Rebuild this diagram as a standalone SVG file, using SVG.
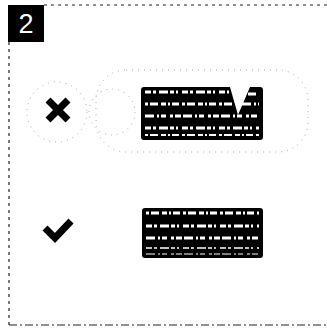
<svg xmlns="http://www.w3.org/2000/svg" width="327" height="331" viewBox="0 0 327 331">
<defs>
<style>
.frame{fill:none;stroke:#222;stroke-width:1.2;stroke-dasharray:3 4}
.faint{fill:none;stroke:#aaa;stroke-width:1;stroke-dasharray:1 5}
.icon{fill:none;stroke:#000;stroke-width:7;stroke-linejoin:miter}
.box{fill:#000}
.row{stroke:#fff;stroke-width:3;fill:none}
.r1{stroke-dasharray:6 2 3 3 9 2 4 2 2 4}
.r2{stroke-dasharray:3 2 8 3 5 2 2 2 7 3}
.r3{stroke-dasharray:9 3 2 2 5 4 3 2 6 2}
</style>
</defs>
<rect width="327" height="331" fill="#fff"/>
<g id="frame">
<line class="frame" x1="44" y1="5" x2="327" y2="5"/>
<line class="frame" x1="9" y1="42" x2="9" y2="325"/>
<line class="frame" x1="9" y1="325" x2="327" y2="325" style="stroke-dasharray:8 3 2 3"/>
</g>
<g id="badge">
<rect x="8" y="5" width="36" height="37" fill="#000"/>
<text x="26" y="33" text-anchor="middle" font-family="Liberation Sans, Arial, sans-serif" font-size="27" fill="#fff">2</text>
</g>
<g id="guides">
<circle class="faint" cx="57" cy="112" r="30"/>
<circle class="faint" cx="112" cy="112" r="23"/>
<rect class="faint" x="96" y="70" width="212" height="82" rx="30"/>
</g>
<g id="wrong">
<path class="icon" d="M48 100 L68 120 M68 100 L48 120"/>
<path class="box" d="M144 87 H230 L238 115 L250 87 H260 Q263 87 263 90 V137 Q263 140 260 140 H144 Q141 140 141 137 V90 Q141 87 144 87 Z"/>
<g class="row">
<line class="r1" x1="145" y1="92" x2="229" y2="92"/>
<line class="r2" x1="145" y1="104" x2="234" y2="104"/>
<line class="r3" x1="145" y1="116" x2="259" y2="116"/>
<line class="r1" x1="145" y1="128" x2="259" y2="128"/>
<line class="r2" x1="145" y1="135" x2="259" y2="135" style="stroke-width:2"/>
<line class="r2" x1="243" y1="94" x2="259" y2="94"/>
<line class="r3" x1="242" y1="104" x2="259" y2="104"/>
</g>
</g>
<g id="right">
<path class="icon" d="M45 228 L55 238 L71 221"/>
<rect class="box" x="142" y="208" width="121" height="50" rx="3"/>
<g class="row">
<line class="r2" x1="146" y1="213" x2="259" y2="213"/>
<line class="r1" x1="146" y1="226" x2="259" y2="226"/>
<line class="r3" x1="146" y1="238" x2="259" y2="238"/>
<line class="r1" x1="146" y1="248" x2="259" y2="248" style="stroke-width:1.5"/>
<line class="r3" x1="146" y1="254" x2="259" y2="254" style="stroke-width:1"/>
</g>
</g>
</svg>
